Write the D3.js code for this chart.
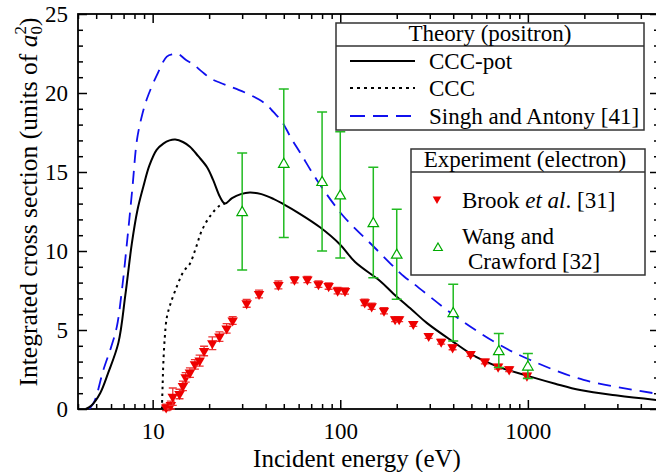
<!DOCTYPE html>
<html>
<head>
<meta charset="utf-8">
<script src="https://cdn.jsdelivr.net/npm/d3@7"></script>
<style>
  body { margin: 0; background: #fff; }
  text { font-family: "Liberation Serif", "Times New Roman", serif; fill: #000; }
</style>
</head>
<body>
<svg id="chart"></svg>
<script>
// CCC-pot (positron), solid
const cccPotE = [4.4, 4.7, 5.25, 5.8, 6.57, 7.15, 7.75, 8.3, 8.93, 9.6, 10.5, 11.4, 12.3, 13.2, 14.5, 15.8, 17.5, 19.5, 21, 22.9, 24.3, 26.5, 29.5, 33, 38, 44, 50, 60, 78, 100, 120, 163, 192, 240, 289, 400, 520, 685, 1030, 1400, 1900, 3000, 5000];
const cccPotS = [0, 0.2, 1.0, 2.3, 4.2, 7.2, 10.5, 12.6, 14.1, 15.4, 16.4, 16.8, 17.0, 17.05, 16.9, 16.6, 16.0, 15.3, 14.5, 13.4, 13.0, 13.35, 13.6, 13.7, 13.6, 13.3, 12.95, 12.4, 11.5, 10.4, 9.3, 8.1, 7.3, 6.3, 5.45, 4.25, 3.35, 2.7, 2.05, 1.6, 1.2, 0.85, 0.55];

// CCC (positron), dotted - joins CCC-pot above ~24 eV
const cccE = [11.2, 11.3, 11.4, 11.6, 11.9, 12.4, 13.2, 14.6, 15.8, 17, 18.3, 20.5, 22.9, 24.3];
const cccS = [0, 1.5, 2.9, 4.5, 5.8, 6.6, 7.5, 8.7, 9.2, 10.2, 11.3, 12.3, 12.9, 13.0];

// Singh and Antony [41], dashed
const singhE = [4.6, 4.9, 5.47, 6.0, 6.44, 6.9, 7.35, 7.8, 8.24, 8.7, 9.3, 10.5, 11.9, 12.8, 13.7, 15, 16.5, 18.3, 20.5, 22.9, 25.9, 28.7, 32.8, 36.7, 40.6, 44, 48.8, 55, 62, 75, 104, 150, 218, 245, 402, 685, 1030, 1980, 5000];
const singhS = [0, 0.5, 2.5, 3.9, 5.2, 7.8, 10.9, 14.0, 17.0, 18.4, 19.6, 21.1, 22.3, 22.45, 22.47, 22.1, 21.8, 21.35, 20.9, 20.65, 20.4, 20.2, 19.9, 19.6, 19.25, 18.8, 18.2, 17.1, 16.1, 14.5, 12.2, 10.3, 8.4, 7.95, 5.95, 4.15, 3.1, 1.84, 0.95];

// Brook et al. [31] (electron)
const brookE = [11.8, 12.5, 12.8, 13.9, 14.5, 15.0, 15.8, 16.8, 17.8, 18.8, 20.8, 22.7, 24.8, 26.7, 31.7, 36.9, 46.8, 57, 66.8, 76.5, 86.7, 96.8, 106, 135, 147, 171, 196, 206, 245, 296, 345, 397, 495, 590, 694, 795, 989];
const brookS = [0.1, 0.25, 0.78, 0.95, 1.46, 2.0, 2.3, 2.83, 3.06, 3.67, 4.16, 4.58, 5.1, 5.6, 6.69, 7.28, 7.85, 8.18, 8.2, 7.9, 7.78, 7.49, 7.47, 6.75, 6.5, 6.22, 5.68, 5.68, 5.38, 4.62, 4.26, 3.9, 3.48, 3.0, 2.68, 2.51, 2.11];
const brookErr = [0.2, 0.25, 0.55, 0.3, 0.3, 0.3, 0.3, 0.3, 0.35, 0.3, 0.4, 0.3, 0.3, 0.25, 0.25, 0.25, 0.25, 0.2, 0.2, 0.2, 0.2, 0.2, 0.2, 0.2, 0.2, 0.2, 0.15, 0.15, 0.15, 0.15, 0.15, 0.15, 0.15, 0.15, 0.15, 0.15, 0.15];

// Wang and Crawford [32] (electron)
const wangE = [30, 50, 80, 100, 150, 200, 400, 700, 1000];
const wangS = [12.5, 15.55, 14.4, 13.55, 11.8, 9.8, 6.1, 3.7, 2.72];
const wangErr = [3.7, 4.7, 4.4, 4.0, 3.5, 2.85, 1.8, 1.08, 0.79];

const xMajor = [10, 100, 1000];
const yMajor = [0, 5, 10, 15, 20, 25];

const W = 656, H = 472;
const margin = { left: 78, top: 14, right: 659, bottom: 409 };

let svg = d3.select('#chart').attr('width', W).attr('height', H);

let xScale = d3.scaleLog().domain([4, 5000]).range([margin.left, margin.right]);
let yScale = d3.scaleLinear().domain([0, 25]).range([margin.bottom, margin.top]);

// minor x ticks: 2..9 per decade
let xMinor = [];
[1, 10, 100, 1000].forEach(d => {
  for (let k = 2; k <= 9; k++) {
    let v = d * k;
    if (v >= 4 && v <= 5000) xMinor.push(v);
  }
});
let yMinor = d3.range(0, 26).filter(v => v % 5 != 0);

const plotH = margin.bottom - margin.top;
const plotW = margin.right - margin.left;

let axes = svg.append('g').attr('class', 'axes');

function addAxis(axis, transform, labels) {
  let g = axes.append('g').attr('transform', transform).call(axis);
  g.select('.domain').remove();
  g.selectAll('.tick line').attr('stroke', '#000').attr('stroke-width', 1.5);
  if (!labels) g.selectAll('.tick text').remove();
  return g;
}

// bottom
let bx = addAxis(d3.axisBottom(xScale).tickValues(xMajor).tickSizeInner(-9).tickSizeOuter(0)
  .tickPadding(14).tickFormat(d3.format('d')), `translate(0,${margin.bottom})`, true);
bx.selectAll('.tick text').style('font-size', '23px').style('font-family', '"Liberation Serif", serif');
addAxis(d3.axisBottom(xScale).tickValues(xMinor).tickSizeInner(-5).tickSizeOuter(0), `translate(0,${margin.bottom})`, false);
// top
addAxis(d3.axisTop(xScale).tickValues(xMajor).tickSizeInner(-9).tickSizeOuter(0), `translate(0,${margin.top})`, false);
addAxis(d3.axisTop(xScale).tickValues(xMinor).tickSizeInner(-5).tickSizeOuter(0), `translate(0,${margin.top})`, false);
// left
let ly = addAxis(d3.axisLeft(yScale).tickValues(yMajor).tickSizeInner(-9).tickSizeOuter(0).tickPadding(10),
  `translate(${margin.left},0)`, true);
ly.selectAll('.tick text').style('font-size', '23px').style('font-family', '"Liberation Serif", serif');
addAxis(d3.axisLeft(yScale).tickValues(yMinor).tickSizeInner(-5).tickSizeOuter(0), `translate(${margin.left},0)`, false);
// right
addAxis(d3.axisRight(yScale).tickValues(yMajor).tickSizeInner(-9).tickSizeOuter(0), `translate(${margin.right},0)`, false);
addAxis(d3.axisRight(yScale).tickValues(yMinor).tickSizeInner(-5).tickSizeOuter(0), `translate(${margin.right},0)`, false);

svg.append('rect')
  .attr('x', margin.left).attr('y', margin.top)
  .attr('width', plotW).attr('height', plotH)
  .attr('fill', 'none').attr('stroke', '#000').attr('stroke-width', 1.8);

// axis titles
svg.append('text')
  .attr('x', 357).attr('y', 467)
  .attr('text-anchor', 'middle')
  .style('font-size', '25px')
  .text('Incident energy (eV)');

let yl = svg.append('text')
  .attr('transform', 'translate(37,202) rotate(-90)')
  .attr('text-anchor', 'middle')
  .style('font-size', '25.5px');
yl.append('tspan').text('Integrated cross section (units of ');
yl.append('tspan').style('font-style', 'italic').text('a');
yl.append('tspan').attr('dy', 5).style('font-size', '17px').text('0');
yl.append('tspan').attr('dx', -8.5).attr('dy', -16).style('font-size', '17px').text('2');
yl.append('tspan').attr('dy', 11).text(')');

// curves
let plot = svg.append('g');
let line = d3.line()
  .x(d => xScale(d[0]))
  .y(d => yScale(d[1]))
  .curve(d3.curveCatmullRom.alpha(0.5));

let zip = (a, b) => a.map((v, i) => [v, b[i]]);

plot.append('path')
  .datum(zip(singhE, singhS))
  .attr('d', line)
  .attr('fill', 'none')
  .attr('stroke', '#1010ee')
  .attr('stroke-width', 1.8)
  .attr('stroke-dasharray', '13,8');

plot.append('path')
  .datum(zip(cccE, cccS))
  .attr('d', line)
  .attr('fill', 'none')
  .attr('stroke', '#000')
  .attr('stroke-width', 2)
  .attr('stroke-dasharray', '2.5,4');

plot.append('path')
  .datum(zip(cccPotE, cccPotS))
  .attr('d', line)
  .attr('fill', 'none')
  .attr('stroke', '#000')
  .attr('stroke-width', 2);

// Brook et al. points
let tri = d3.symbol().type(d3.symbolTriangle).size(48);

let brook = plot.selectAll('.brook')
  .data(brookE.map((e, i) => ({ e: e, s: brookS[i], err: brookErr[i] })))
  .enter()
  .append('g')
  .attr('class', 'brook')
  .attr('transform', d => `translate(${xScale(d.e)},0)`);

brook.append('path')
  .attr('d', d => `M0,${yScale(d.s - d.err)}V${yScale(d.s + d.err)}M-4,${yScale(d.s + d.err)}H4M-4,${yScale(d.s - d.err)}H4`)
  .attr('stroke', '#ee3333')
  .attr('stroke-width', 1.3)
  .attr('fill', 'none');

brook.append('path')
  .attr('d', tri)
  .attr('transform', d => `translate(0,${yScale(d.s)}) rotate(180)`)
  .attr('fill', '#ee0000');

// Wang and Crawford points
let wang = plot.selectAll('.wang')
  .data(wangE.map((e, i) => ({ e: e, s: wangS[i], err: wangErr[i] })))
  .enter()
  .append('g')
  .attr('class', 'wang')
  .attr('transform', d => `translate(${xScale(d.e)},0)`);

wang.append('path')
  .attr('d', d => `M0,${yScale(d.s - d.err)}V${yScale(d.s + d.err)}M-5,${yScale(d.s + d.err)}H5M-5,${yScale(d.s - d.err)}H5`)
  .attr('stroke', '#22bb22')
  .attr('stroke-width', 1.5)
  .attr('fill', 'none');

wang.append('path')
  .attr('d', d3.symbol().type(d3.symbolTriangle).size(48))
  .attr('transform', d => `translate(0,${yScale(d.s) + 1})`)
  .attr('fill', '#fff')
  .attr('stroke', '#00aa00')
  .attr('stroke-width', 1.2);

// legend: theory
let lg1 = svg.append('g');
lg1.append('rect').attr('x', 336).attr('y', 23).attr('width', 308).attr('height', 107)
  .attr('fill', '#fff').attr('stroke', '#333').attr('stroke-width', 1.5);
lg1.append('line').attr('x1', 336).attr('x2', 644).attr('y1', 46).attr('y2', 46)
  .attr('stroke', '#333').attr('stroke-width', 1.5);
lg1.append('text').attr('x', 490).attr('y', 41).attr('text-anchor', 'middle')
  .style('font-size', '23px').text('Theory (positron)');

let theory = [
  { label: 'CCC-pot', color: '#000', dash: null, y: 61 },
  { label: 'CCC', color: '#000', dash: '3,4', y: 88 },
  { label: 'Singh and Antony [41]', color: '#1010ee', dash: '15,8', y: 116 }
];
theory.forEach(t => {
  lg1.append('line').attr('x1', 350).attr('x2', 415).attr('y1', t.y).attr('y2', t.y)
    .attr('stroke', t.color).attr('stroke-width', 2)
    .attr('stroke-dasharray', t.dash);
  lg1.append('text').attr('x', 429).attr('y', t.y + 7.5).style('font-size', '23px').text(t.label);
});

// legend: experiment
let lg2 = svg.append('g');
lg2.append('rect').attr('x', 411).attr('y', 149).attr('width', 234).attr('height', 126)
  .attr('fill', '#fff').attr('stroke', '#333').attr('stroke-width', 1.5);
lg2.append('line').attr('x1', 411).attr('x2', 645).attr('y1', 172).attr('y2', 172)
  .attr('stroke', '#333').attr('stroke-width', 1.5);
lg2.append('text').attr('x', 525).attr('y', 167).attr('text-anchor', 'middle')
  .style('font-size', '23px').text('Experiment (electron)');

lg2.append('path').attr('d', d3.symbol().type(d3.symbolTriangle).size(32))
  .attr('transform', 'translate(437,199) rotate(180)').attr('fill', '#ee0000');
let bt = lg2.append('text').attr('x', 462).attr('y', 208).style('font-size', '23px');
bt.append('tspan').text('Brook ');
bt.append('tspan').style('font-style', 'italic').text('et al');
bt.append('tspan').text('. [31]');

lg2.append('path').attr('d', d3.symbol().type(d3.symbolTriangle).size(32))
  .attr('transform', 'translate(438,248)').attr('fill', '#fff')
  .attr('stroke', '#00aa00').attr('stroke-width', 1.2);
lg2.append('text').attr('x', 462).attr('y', 244).style('font-size', '23px').text('Wang and');
lg2.append('text').attr('x', 468).attr('y', 269).style('font-size', '23px').text('Crawford [32]');
</script>
</body>
</html>
